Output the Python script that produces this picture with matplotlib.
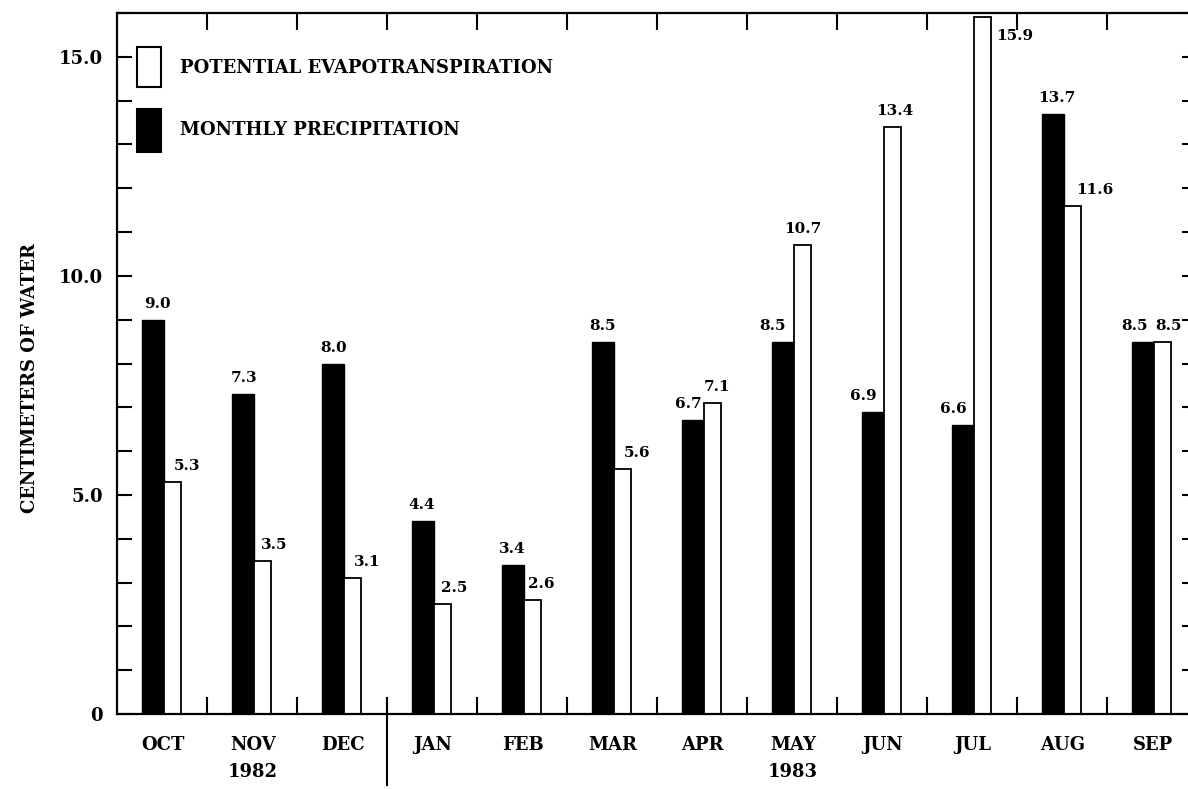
import numpy as np
import matplotlib
matplotlib.use("Agg")
import matplotlib.pyplot as plt
from matplotlib.patches import Rectangle

# Monthly water balance, water year Oct 1982 - Sep 1983 (cm of water)
months = ["OCT", "NOV", "DEC", "JAN", "FEB", "MAR",
          "APR", "MAY", "JUN", "JUL", "AUG", "SEP"]
precipitation = [9.0, 7.3, 8.0, 4.4, 3.4, 8.5, 6.7, 8.5, 6.9, 6.6, 13.7, 8.5]
evapotranspiration = [5.3, 3.5, 3.1, 2.5, 2.6, 5.6, 7.1, 10.7, 13.4, 15.9, 11.6, 8.5]
years = ["1982", "1983"]
year_under = [1, 7]  # month index each year label sits under

# value label nudges (pixels), kept apart from the data
precip_label_dx = [4, 1, 1, -1, -1, 0, -5, -10, -10, -10, 4, -8]
pet_label_dx = [14, 12, 15, 12, 9, 14, 5, 0, 2, 32, 22, 6]
pet_label_dy = [16, 16, 16, 16, 16, 16, 16, 16, 16, -19, 16, 16]

plt.rcParams["font.family"] = ["DejaVu Serif"]
plt.rcParams["font.weight"] = "bold"

fig = plt.figure(figsize=(11.88, 7.89), dpi=100)
ax = fig.add_axes([117 / 1188, 75 / 789, 1080 / 1188, 701 / 789])

x = np.arange(len(months))
black_off, black_w = 0.278, 0.244
white_off, white_w = 0.522, 0.19

ax.bar(x + black_off, precipitation, width=black_w, align="edge",
       color="black", edgecolor="black", linewidth=1.0, zorder=2)
ax.bar(x + white_off, evapotranspiration, width=white_w, align="edge",
       color="white", edgecolor="black", linewidth=1.3, zorder=2)

for i in range(len(months)):
    ax.annotate(f"{precipitation[i]:.1f}",
                xy=(x[i] + black_off + black_w / 2, precipitation[i]),
                xytext=(precip_label_dx[i], 16), textcoords="offset pixels",
                ha="center", va="center", fontsize=11, annotation_clip=False)
    ax.annotate(f"{evapotranspiration[i]:.1f}",
                xy=(x[i] + white_off + white_w / 2, evapotranspiration[i]),
                xytext=(pet_label_dx[i], pet_label_dy[i]), textcoords="offset pixels",
                ha="center", va="center", fontsize=11, annotation_clip=False)

ax.set_xlim(0, 12)
ax.set_ylim(0, 16)

# month boundary ticks, top and bottom, pointing in
ax.set_xticks(np.arange(1, 12))
ax.set_xticklabels([])
ax.tick_params(axis="x", which="major", direction="in", length=12, width=1.5,
               top=True, bottom=True)

ax.set_yticks([0, 5, 10, 15])
ax.set_yticklabels(["0", "5.0", "10.0", "15.0"], fontsize=13)
ax.set_yticks([v for v in range(17) if v % 5 != 0], minor=True)
ax.tick_params(axis="y", which="both", direction="in", length=11, width=1.5,
               left=True, right=True, pad=10)

for sp in ax.spines.values():
    sp.set_linewidth(1.6)

# month and year labels below the axis
xt = ax.get_xaxis_transform()
for i, m in enumerate(months):
    ax.text(i + 0.51, -0.044, m, transform=xt, ha="center", va="center", fontsize=13)
for yr, i in zip(years, year_under):
    ax.text(i + 0.51, -0.083, yr, transform=xt, ha="center", va="center", fontsize=13)

# long divider between 1982 and 1983
ax.plot([3, 3], [0.02, -0.101], transform=xt, color="black", lw=1.5, clip_on=False)

# legend boxes
ax.add_patch(Rectangle((0.0185, 0.8944), 0.0222, 0.057, transform=ax.transAxes,
                       facecolor="white", edgecolor="black", lw=1.5))
ax.add_patch(Rectangle((0.0185, 0.8017), 0.0222, 0.061, transform=ax.transAxes,
                       facecolor="black", edgecolor="black", lw=1.5))
ax.text(0.0583, 0.9215, "POTENTIAL EVAPOTRANSPIRATION", transform=ax.transAxes,
        ha="left", va="center", fontsize=13)
ax.text(0.0583, 0.833, "MONTHLY PRECIPITATION", transform=ax.transAxes,
        ha="left", va="center", fontsize=13)

fig.text(30 / 1188, 1 - 378 / 789, "CENTIMETERS OF WATER", rotation=90,
         ha="center", va="center", fontsize=13)

fig.savefig("out.png", dpi=100)
